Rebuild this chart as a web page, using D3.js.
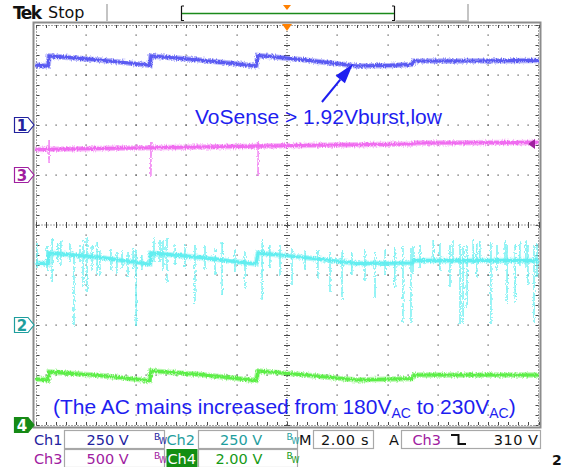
<!DOCTYPE html>
<html>
<head>
<meta charset="utf-8">
<script src="https://cdn.jsdelivr.net/npm/d3@7"></script>
<style>
  html, body { margin: 0; padding: 0; background: #fff; }
  svg { display: block; }
</style>
</head>
<body>
<script>
// ---- Acquisition settings ----
const timeDomain = [-10, 10];          // seconds, 2.00 s/div, trigger at centre
const channelNames = ["Ch1", "Ch2", "Ch3", "Ch4"];
const channelVoltsPerDiv = [250, 250, 500, 2];
const channelOffsetDiv = [2, -2, 1, -4]; // ground marker position in divisions from centre
const channelColors = ["#5a5af2", "#62eef0", "#f06cf0", "#5cee46"];
const channelLabelColors = ["#22229e", "#1e9e9e", "#a020a0", "#169a16"];
const channelScaleLabels = ["250 V", "250 V", "500 V", "2.00 V"];
const timebaseLabel = "2.00 s";
const triggerSource = "Ch3";
const triggerLevel = 310;               // V on Ch3
const triggerLevelLabel = "310 V";

// ---- Ch1 : bulk voltage (V) ----
const ch1Time = [-10.0, -9.50, -9.46, -7.44, -5.53, -5.45, -5.41, -3.46, -1.23, -1.15, 0.52, 2.78, 4.10, 4.97, 5.05, 7.28, 10.0];
const ch1Volt = [300, 295, 345, 325, 300, 298, 345, 325, 295, 348, 328, 295, 298, 303, 320, 320, 323];

// ---- Ch2 (V) ----
const ch2Time = [-10.0, -9.50, -9.46, -7.44, -5.53, -5.45, -5.41, -3.46, -1.23, -1.15, 0.52, 2.78, 4.97, 5.05, 10.0];
const ch2Volt = [310, 305, 360, 338, 305, 305, 360, 338, 305, 360, 340, 308, 310, 322, 322];
const ch2SpikeTime = [-9.94, -9.54, -9.34, -9.11, -8.99, -8.63, -8.47, -8.23, -8.11, -7.95, -7.75, -7.55, -7.44, -7.00, -6.76, -6.56, -6.32, -6.12, -6.00, -5.77,
  -5.29, -5.05, -4.93, -4.77, -4.45, -4.06, -3.66, -3.26, -2.86, -2.58, -2.07, -1.67, -0.99, -0.68, -0.28, 0.20, 0.72, 1.23, 1.71, 2.19,
  2.58, 3.10, 3.50, 3.90, 4.29, 4.61, 4.93, 5.01, 5.29, 5.81, 6.08, 6.48, 6.60, 6.88, 7.00, 7.16, 7.40, 7.55, 7.67, 8.11,
  8.35, 8.67, 8.75, 9.07, 9.26, 9.50, 9.58, 9.82, 9.94];
const ch2SpikeHigh = [410, 395, 435, 410, 425, 410, 375, 400, 425, 440, 400, 415, 375, 385, 365, 375, 365, 385, 375, 350,
  440, 425, 425, 435, 405, 400, 400, 400, 385, 415, 375, 365, 425, 400, 400, 385, 375, 375, 365, 375,
  365, 375, 365, 375, 385, 395, 385, 395, 400, 425, 410, 400, 425, 405, 405, 400, 425, 410, 425, 410,
  400, 425, 400, 405, 415, 425, 400, 395, 405];
const ch2SpikeLow = [285, 275, 210, 315, 300, 310, -5, 315, 190, 165, 275, 250, 250, 275, 260, 285, 240, 285, -5, 275,
  315, 315, 275, 210, 300, 285, 110, 275, 250, 150, 265, 175, 125, 285, 250, 200, 275, 235, 165, 125,
  250, 225, 135, 250, 185, 10, 10, 260, 285, 315, 275, 190, 315, 5, 5, 90, 300, 235, 315, 5,
  275, 300, 110, 115, 300, 285, 200, 10, 240];

// ---- Ch3 : AC mains (V) ----
const ch3Time = [-10.0, -7.44, -3.46, 0.52, 4.97, 5.09, 10.0];
const ch3Volt = [255, 265, 280, 295, 310, 320, 325];
const ch3SpikeTime = [-9.46, -5.41, -1.15];
const ch3SpikeHigh = [350, 330, 340];
const ch3SpikeLow = [120, -20, -10];

// ---- Ch4 : VoSense (V) ----
const ch4Time = [-10.0, -9.50, -9.46, -7.44, -5.53, -5.45, -5.41, -3.46, -1.23, -1.15, 0.52, 2.78, 4.97, 5.05, 10.0];
const ch4Volt = [1.84, 1.80, 2.12, 1.98, 1.78, 1.78, 2.16, 2.02, 1.78, 2.16, 2.02, 1.80, 1.86, 2.00, 2.00];

// ---- Annotations ----
const noteText = "VoSense > 1.92Vburst,low";
const noteArrow = { fromT: 1.39, fromV: 115, toT: 2.62, toV: 305 }; // both ends on the Ch1 scale
const mainsNote = ["(The AC mains increased from 180V", "AC", " to 230V", "AC", ")"];

// ---------------------------------------------------------------
const W = 565, H = 467;
const svg = d3.select("body").append("svg").attr("width", W).attr("height", H)
  .style("font-family", "'DejaVu Sans', Verdana, sans-serif");

const plotLeft = 35.5, plotRight = 538.5, plotTop = 25, plotBottom = 425;
const x = d3.scaleLinear().domain(timeDomain).range([plotLeft, plotRight]);
const yDiv = d3.scaleLinear().domain([-4, 4]).range([plotBottom, plotTop]);
const chScale = i => d3.scaleLinear()
  .domain([0, channelVoltsPerDiv[i]])
  .range([yDiv(channelOffsetDiv[i]), yDiv(channelOffsetDiv[i] + 1)]);
const yCh = [0, 1, 2, 3].map(chScale);

// trace jitter texture
const defs = svg.append("defs");
const flt = defs.append("filter").attr("id", "jitter")
  .attr("filterUnits", "userSpaceOnUse").attr("x", 30).attr("y", 20).attr("width", 515).attr("height", 410);
flt.append("feTurbulence").attr("type", "fractalNoise").attr("baseFrequency", "0.9 0.4")
  .attr("numOctaves", 2).attr("seed", 7).attr("result", "n");
flt.append("feDisplacementMap").attr("in", "SourceGraphic").attr("in2", "n")
  .attr("scale", 4).attr("xChannelSelector", "R").attr("yChannelSelector", "G");

// ---- top status strip ----
const topBar = svg.append("g");
topBar.append("text").attr("x", 13).attr("y", 19).attr("font-weight", "bold").attr("font-size", 17)
  .attr("letter-spacing", -1.6).attr("fill", "#111").text("Tek");
topBar.append("text").attr("x", 48).attr("y", 18).attr("font-size", 16).attr("fill", "#111").text("Stop");
topBar.append("rect").attr("x", 106).attr("y", 4).attr("width", 2).attr("height", 17).attr("fill", "#c4c4c4");
topBar.append("rect").attr("x", 467).attr("y", 4).attr("width", 2).attr("height", 17).attr("fill", "#c4c4c4");
topBar.append("rect").attr("x", 396).attr("y", 20).attr("width", 73).attr("height", 2).attr("fill", "#c4c4c4");
topBar.append("path").attr("d", "M181.5,6V20.5H184M181.5,6H184").attr("fill", "none").attr("stroke", "#111").attr("stroke-width", 1.2);
topBar.append("path").attr("d", "M394.5,6V20.5H392M394.5,6H392").attr("fill", "none").attr("stroke", "#111").attr("stroke-width", 1.2);
topBar.append("line").attr("x1", 182).attr("x2", 394).attr("y1", 13.5).attr("y2", 13.5)
  .attr("stroke", "#1b8a1b").attr("stroke-width", 1.4);
topBar.append("path").attr("d", `M${x(0) - 4},5 H${x(0) + 4} L${x(0)},10 Z`).attr("fill", "#ff8000");

// ---- graticule ----
const grat = svg.append("g");
grat.append("rect").attr("x", 33.5).attr("y", 22.5).attr("width", 507).attr("height", 405)
  .attr("fill", "none").attr("stroke", "#8c8c8c").attr("stroke-width", 2);
const minorTimes = d3.range(timeDomain[0], timeDomain[1] + 0.001, 0.4);
const minorDivs = d3.range(-4, 4.001, 0.2);
const dotColor = "#4a4a4a";
// dotted major lines
d3.range(-8, 9, 2).filter(t => t !== 0).forEach(t => {
  minorDivs.slice(1, -1).forEach(d => {
    grat.append("rect").attr("x", Math.round(x(t)) - 0.5).attr("y", Math.round(yDiv(d)) - 0.5)
      .attr("width", 1.2).attr("height", 1.2).attr("fill", dotColor);
  });
});
d3.range(-3, 4, 1).filter(d => d !== 0).forEach(d => {
  minorTimes.slice(1, -1).forEach(t => {
    grat.append("rect").attr("x", Math.round(x(t)) - 0.5).attr("y", Math.round(yDiv(d)) - 0.5)
      .attr("width", 1.2).attr("height", 1.2).attr("fill", dotColor);
  });
});
// centre cross with minor ticks
grat.append("line").attr("x1", x(0)).attr("x2", x(0)).attr("y1", plotTop).attr("y2", plotBottom)
  .attr("stroke", dotColor).attr("stroke-dasharray", "1,2");
grat.append("line").attr("x1", plotLeft).attr("x2", plotRight).attr("y1", yDiv(0)).attr("y2", yDiv(0))
  .attr("stroke", dotColor).attr("stroke-dasharray", "1,2");
minorDivs.forEach(d => grat.append("line").attr("x1", x(0) - 3).attr("x2", x(0) + 3)
  .attr("y1", Math.round(yDiv(d)) + 0.5).attr("y2", Math.round(yDiv(d)) + 0.5).attr("stroke", dotColor));
minorTimes.forEach(t => grat.append("line").attr("y1", yDiv(0) - 3).attr("y2", yDiv(0) + 3)
  .attr("x1", Math.round(x(t)) + 0.5).attr("x2", Math.round(x(t)) + 0.5).attr("stroke", dotColor));
// border ticks
grat.append("rect").attr("x", plotLeft + 1).attr("y", plotTop + 0.5).attr("width", plotRight - plotLeft - 1)
  .attr("height", plotBottom - plotTop).attr("fill", "none").attr("stroke", dotColor).attr("stroke-dasharray", "1,2");
minorTimes.forEach(t => {
  const xx = Math.round(x(t)) + 0.5;
  grat.append("line").attr("x1", xx).attr("x2", xx).attr("y1", plotTop).attr("y2", plotTop + 3).attr("stroke", dotColor);
  grat.append("line").attr("x1", xx).attr("x2", xx).attr("y1", plotBottom - 3).attr("y2", plotBottom).attr("stroke", dotColor);
});
minorDivs.forEach(d => {
  const yy = Math.round(yDiv(d)) + 0.5;
  grat.append("line").attr("x1", plotLeft + 1).attr("x2", plotLeft + 4).attr("y1", yy).attr("y2", yy).attr("stroke", dotColor);
  grat.append("line").attr("x1", plotRight - 3).attr("x2", plotRight).attr("y1", yy).attr("y2", yy).attr("stroke", dotColor);
});
// trigger position marker
grat.append("path").attr("d", `M${x(0) - 5},24 H${x(0) + 5} L${x(0)},31 Z`).attr("fill", "#ff8000");

// ---- traces ----
const traces = svg.append("g").attr("filter", "url(#jitter)");
const traceData = [
  [ch1Time, ch1Volt, 0], [ch2Time, ch2Volt, 1], [ch3Time, ch3Volt, 2], [ch4Time, ch4Volt, 3]
];
const spikeData = [[ch2SpikeTime, ch2SpikeHigh, ch2SpikeLow, 1], [ch3SpikeTime, ch3SpikeHigh, ch3SpikeLow, 2]];
spikeData.forEach(([ts, hi, lo, c]) => {
  traces.append("g").selectAll("line").data(ts).join("line")
    .attr("x1", d => x(d)).attr("x2", d => x(d))
    .attr("y1", (d, i) => yCh[c](hi[i])).attr("y2", (d, i) => yCh[c](lo[i]))
    .attr("stroke", channelColors[c]).attr("stroke-width", 1.3);
});
traceData.forEach(([ts, vs, c]) => {
  const pts = ts.map((t, i) => [t, vs[i]]);
  const line = d3.line().x(d => x(d[0])).y(d => yCh[c](d[1]));
  traces.append("path").datum(pts).attr("d", line).attr("fill", "none")
    .attr("stroke", channelColors[c]).attr("stroke-width", 5.5).attr("stroke-opacity", 0.45);
  traces.append("path").datum(pts).attr("d", line).attr("fill", "none")
    .attr("stroke", channelColors[c]).attr("stroke-width", 3.2);
});

// trigger level arrow (Ch3)
svg.append("path").attr("d", () => {
  const yy = yCh[2](triggerLevel);
  return `M528,${yy} L535,${yy - 5} L535,${yy + 5} Z`;
}).attr("fill", "#a020a0");

// ---- channel ground markers ----
const markerOrder = [0, 2, 1, 3];
markerOrder.forEach(c => {
  const yy = yDiv(channelOffsetDiv[c]);
  const filled = c === 3;
  svg.append("path").attr("d", `M14.5,${yy - 7.5} H28 L34,${yy} L28,${yy + 7.5} H14.5 Z`)
    .attr("fill", filled ? "#168a16" : "#fff")
    .attr("stroke", filled ? "#168a16" : channelLabelColors[c]).attr("stroke-width", 1.2);
  svg.append("text").attr("x", 22).attr("y", yy + 5.5).attr("text-anchor", "middle")
    .attr("font-size", 15).attr("font-weight", "bold")
    .attr("fill", filled ? "#fff" : channelLabelColors[c]).text(String(c + 1));
});

// ---- annotations ----
const noteColor = "#1e1ef0";
const ann = svg.append("g").style("font-family", "'Liberation Sans', Arial, sans-serif").attr("fill", noteColor);
ann.append("text").attr("x", 195).attr("y", 124).attr("font-size", 21).text(noteText);
{
  const x1 = x(noteArrow.fromT), y1 = yCh[0](noteArrow.fromV);
  const x2 = x(noteArrow.toT), y2 = yCh[0](noteArrow.toV);
  const ang = Math.atan2(y2 - y1, x2 - x1), L = 20, hw = 6;
  const bx = x2 - L * Math.cos(ang), by = y2 - L * Math.sin(ang);
  const px = -Math.sin(ang) * hw, py = Math.cos(ang) * hw;
  ann.append("line").attr("x1", x1).attr("y1", y1).attr("x2", bx).attr("y2", by)
    .attr("stroke", noteColor).attr("stroke-width", 2);
  ann.append("path").attr("d", `M${x2},${y2} L${bx + px},${by + py} L${bx - px},${by - py} Z`).attr("fill", noteColor);
}
const mt = ann.append("text").attr("x", 53).attr("y", 414).attr("font-size", 21);
mt.append("tspan").text(mainsNote[0]);
mt.append("tspan").attr("font-size", 14).attr("dy", 4).text(mainsNote[1]);
mt.append("tspan").attr("dy", -4).text(mainsNote[2]);
mt.append("tspan").attr("font-size", 14).attr("dy", 4).text(mainsNote[3]);
mt.append("tspan").attr("dy", -4).text(mainsNote[4]);

// ---- bottom readout ----
const rd = svg.append("g").attr("font-size", 14.5);
const rows = [431, 450];
function box(x0, x1, y0) {
  rd.append("rect").attr("x", x0 + 0.5).attr("y", y0 - 0.5).attr("width", x1 - x0).attr("height", 18)
    .attr("fill", "none").attr("stroke", "#a8a8a8").attr("stroke-width", 1.2);
}
function bw(x0, y0, col) {
  rd.append("text").attr("x", x0).attr("y", y0 + 9).attr("font-size", 9).attr("fill", col).text("B");
  rd.append("text").attr("x", x0 + 5).attr("y", y0 + 13).attr("font-size", 8).attr("fill", col).text("W");
}
const slots = [[34, 64, 164, 86.5, 0, 154], [166.5, 198, 297, 220, 0, 286.5], [34, 64, 164, 86.5, 1, 154], [166.5, 198, 297, 215.5, 1, 286.5]];
const slotChannel = [0, 1, 2, 3];
slots.forEach(([lx, b0, b1, vx, row, bwx], k) => {
  const c = slotChannel[k], y0 = rows[row];
  if (c === 3) {
    rd.append("rect").attr("x", lx).attr("y", y0 - 1).attr("width", 31).attr("height", 18).attr("fill", "#128e12");
  }
  rd.append("text").attr("x", lx + (c === 3 ? 1 : 0)).attr("y", y0 + 14)
    .attr("fill", c === 3 ? "#fff" : channelLabelColors[c]).text(channelNames[c]);
  box(b0, b1, y0);
  rd.append("text").attr("x", vx).attr("y", y0 + 14).attr("fill", channelLabelColors[c]).text(channelScaleLabels[c]);
  bw(bwx, y0, channelLabelColors[c]);
});
rd.append("text").attr("x", 299).attr("y", rows[0] + 14).attr("fill", "#111").text("M");
box(313, 373, rows[0]);
rd.append("text").attr("x", 321).attr("y", rows[0] + 14).attr("fill", "#111").attr("letter-spacing", 0.6).text(timebaseLabel);
rd.append("text").attr("x", 389).attr("y", rows[0] + 14).attr("fill", "#111").text("A");
box(401, 540, rows[0]);
rd.append("text").attr("x", 412.5).attr("y", rows[0] + 14).attr("fill", channelLabelColors[2]).text(triggerSource);
rd.append("path").attr("d", `M451,${rows[0] + 4} H458.5 V${rows[0] + 13} H466`)
  .attr("fill", "none").attr("stroke", "#111").attr("stroke-width", 2);
rd.append("text").attr("x", 538.5).attr("y", rows[0] + 14).attr("text-anchor", "end").attr("fill", "#111")
  .attr("letter-spacing", 0.5).text(triggerLevelLabel);
svg.append("text").attr("x", 552).attr("y", 465).attr("font-size", 14).attr("font-weight", "bold")
  .attr("fill", "#111").text("2");
</script>
</body>
</html>
